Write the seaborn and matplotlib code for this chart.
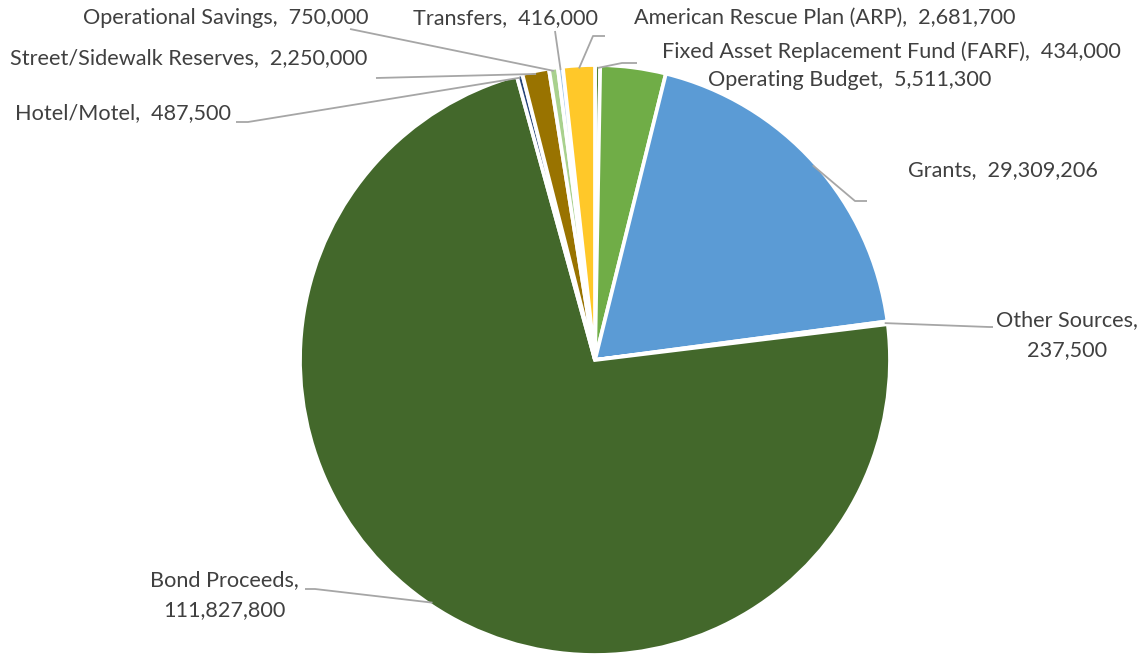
import numpy as np
import matplotlib
matplotlib.use("Agg")
import matplotlib.pyplot as plt
import seaborn as sns

# Funding sources (clockwise from 12 o'clock)
categories = [
    "Fixed Asset Replacement Fund (FARF)",
    "Operating Budget",
    "Grants",
    "Other Sources",
    "Bond Proceeds",
    "Hotel/Motel",
    "Street/Sidewalk Reserves",
    "Operational Savings",
    "Transfers",
    "American Rescue Plan (ARP)",
]
values = [434000, 5511300, 29309206, 237500, 111827800, 487500,
          2250000, 750000, 416000, 2681700]
colors = ["#548235", "#70AD47", "#5B9BD5", "#A5A5A5", "#43682B",
          "#264478", "#997300", "#A9D18E", "#9DC3E6", "#FFC829"]
# categories whose label wraps onto two lines
wrapped = {"Other Sources", "Bond Proceeds"}

sns.set_theme(style="white")
plt.rcParams["font.family"] = ["Lato", "DejaVu Sans"]

W, H = 1146, 656
CX, CY, R = 595, 360, 295  # pie centre / radius in pixels

fig = plt.figure(figsize=(W / 100, H / 100), dpi=100)
ax = fig.add_axes([0, 0, 1, 1])

wedges, _ = ax.pie(values, colors=colors, startangle=90, counterclock=False,
                   radius=1.0,
                   wedgeprops=dict(edgecolor="white", linewidth=2.7))
ax.set_xlim(-CX / R, (W - CX) / R)
ax.set_ylim(-(H - CY) / R, CY / R)
ax.set_aspect("auto")
ax.axis("off")


def px(x, y):
    """Pixel position (origin top-left) to data coordinates."""
    return (x - CX) / R, (CY - y) / R


# label layout: text anchor (px), horizontal alignment, elbow points (px)
layout = {
    "Fixed Asset Replacement Fund (FARF)": ((662, 52), "left", [(637, 63), (622, 63)]),
    "Operating Budget": ((708, 80), "left", None),
    "Grants": ((908, 170), "left", [(867, 201), (855, 201)]),
    "Other Sources": ((1067, 335), "center", [(993, 327), (989, 327)]),
    "Bond Proceeds": ((224, 595), "center", [(305, 589), (315, 589)]),
    "Hotel/Motel": ((15, 113), "left", [(236, 122), (248, 122)]),
    "Street/Sidewalk Reserves": ((10, 58), "left", [(376, 78)]),
    "Operational Savings": ((83, 18), "left", [(350, 29)]),
    "Transfers": ((413, 18), "left", [(555, 31)]),
    "American Rescue Plan (ARP)": ((634, 18), "left", [(605, 36), (593, 36)]),
}

text_color = "#404040"
line_color = "#A6A6A6"

for w, name, val in zip(wedges, categories, values):
    sep = ",\n" if name in wrapped else ",  "
    label = f"{name}{sep}{val:,}"
    (tx, ty), ha, elbow = layout[name]
    x, y = px(tx, ty)
    ax.text(x, y, label, ha=ha, va="center", multialignment="center",
            fontsize=15.6, color=text_color, linespacing=1.6)
    if elbow:
        mid = np.deg2rad((w.theta1 + w.theta2) / 2)
        end = (0.99 * np.cos(mid), 0.99 * np.sin(mid))
        pts = [px(*p) for p in elbow] + [end]
        xs, ys = zip(*pts)
        ax.plot(xs, ys, color=line_color, lw=1.3, solid_capstyle="butt")

fig.savefig("out.png", dpi=100, facecolor="white")
